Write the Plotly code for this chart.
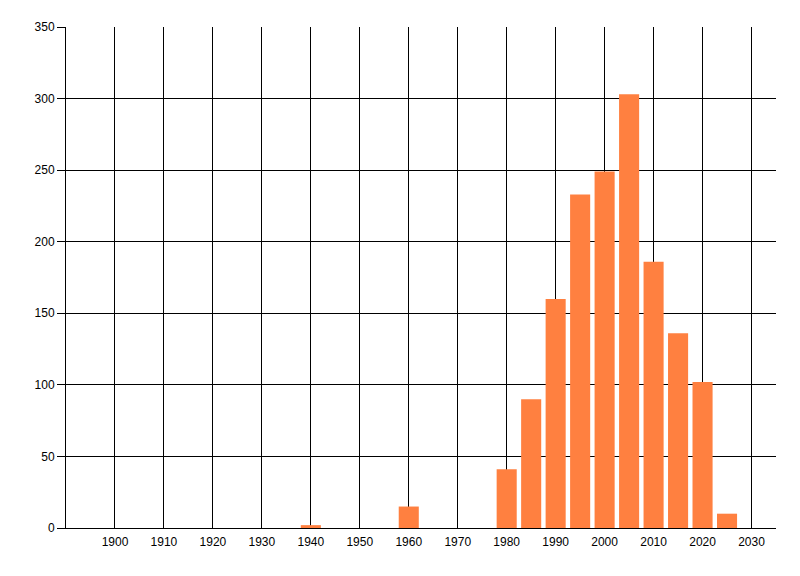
import plotly.graph_objects as go

# values
years = [1940, 1960, 1980, 1985, 1990, 1995, 2000, 2005, 2010, 2015, 2020, 2025]
counts = [2, 15, 41, 90, 160, 233, 249, 303, 186, 136, 102, 10]
x_ticks = list(range(1900, 2031, 10))
y_ticks = list(range(0, 351, 50))

fig = go.Figure(go.Bar(x=years, y=counts, width=4.1,
                       marker=dict(color='rgb(255,128,64)', line=dict(width=0))))

# page body adds ~8px offset, so margins are trimmed to land on the same spot
fig.update_layout(
    width=800, height=576,
    margin=dict(l=58, r=32, t=19, b=56),
    plot_bgcolor='white', paper_bgcolor='white',
    font=dict(family='Liberation Sans, Arial, sans-serif', size=12, color='black'),
    showlegend=False,
    xaxis=dict(range=[1890, 2035], tickvals=x_ticks, showgrid=True,
               gridcolor='black', gridwidth=1, zeroline=False,
               showline=True, linecolor='black', linewidth=1,
               ticks='', ticklabelstandoff=3),
    yaxis=dict(range=[0, 350], tickvals=y_ticks, showgrid=True,
               gridcolor='black', gridwidth=1, zeroline=False,
               showline=True, linecolor='black', linewidth=1,
               ticks='outside', ticklen=8, tickcolor='black'),
)

fig.write_html("out.html")
